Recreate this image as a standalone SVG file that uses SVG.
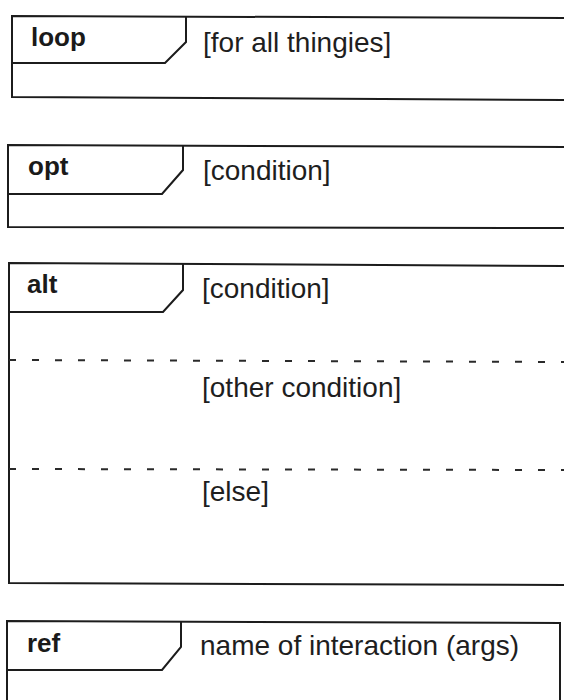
<svg xmlns="http://www.w3.org/2000/svg" width="564" height="700" viewBox="0 0 564 700">
<style>
.ln{fill:none;stroke:#1c1c1c;stroke-width:2;stroke-linejoin:miter}
.dash{fill:none;stroke:#2a2a2a;stroke-width:2;stroke-dasharray:7 16}
.kw{font-family:"Liberation Sans",Arial,sans-serif;font-weight:bold;font-size:26px;fill:#1a1a1a}
.tx{font-family:"Liberation Sans",Arial,sans-serif;font-size:28px;fill:#1e1e1e}
</style>
<rect width="564" height="700" fill="#ffffff"/>
<g id="loop">
<polyline class="ln" points="566,18 12,16 12,97 566,100"/>
<polyline class="ln" points="186,16 186,42 165,63 12,63"/>
<text class="kw" x="31" y="46">loop</text>
<text class="tx" x="203" y="52">[for all thingies]</text>
</g>
<g id="opt">
<polyline class="ln" points="566,147 8,145 8,227 566,228"/>
<polyline class="ln" points="183,145 183,170 162,194 8,194"/>
<text class="kw" x="28" y="175">opt</text>
<text class="tx" x="203" y="180">[condition]</text>
</g>
<g id="alt">
<polyline class="ln" points="566,266 9,263 9,583 566,585"/>
<polyline class="ln" points="183,263 183,290 163,312 9,312"/>
<line class="dash" x1="9" y1="360" x2="566" y2="362"/>
<line class="dash" x1="9" y1="469" x2="566" y2="470"/>
<text class="kw" x="27" y="293">alt</text>
<text class="tx" x="202" y="298">[condition]</text>
<text class="tx" x="202" y="397">[other condition]</text>
<text class="tx" x="202" y="501">[else]</text>
</g>
<g id="ref">
<polyline class="ln" points="7,702 7,621 560,623 560,702"/>
<polyline class="ln" points="181,621 181,647 162,670 7,670"/>
<text class="kw" x="27" y="652">ref</text>
<text class="tx" x="200" y="655">name of interaction (args)</text>
</g>
<g id="connectors"/>
</svg>
